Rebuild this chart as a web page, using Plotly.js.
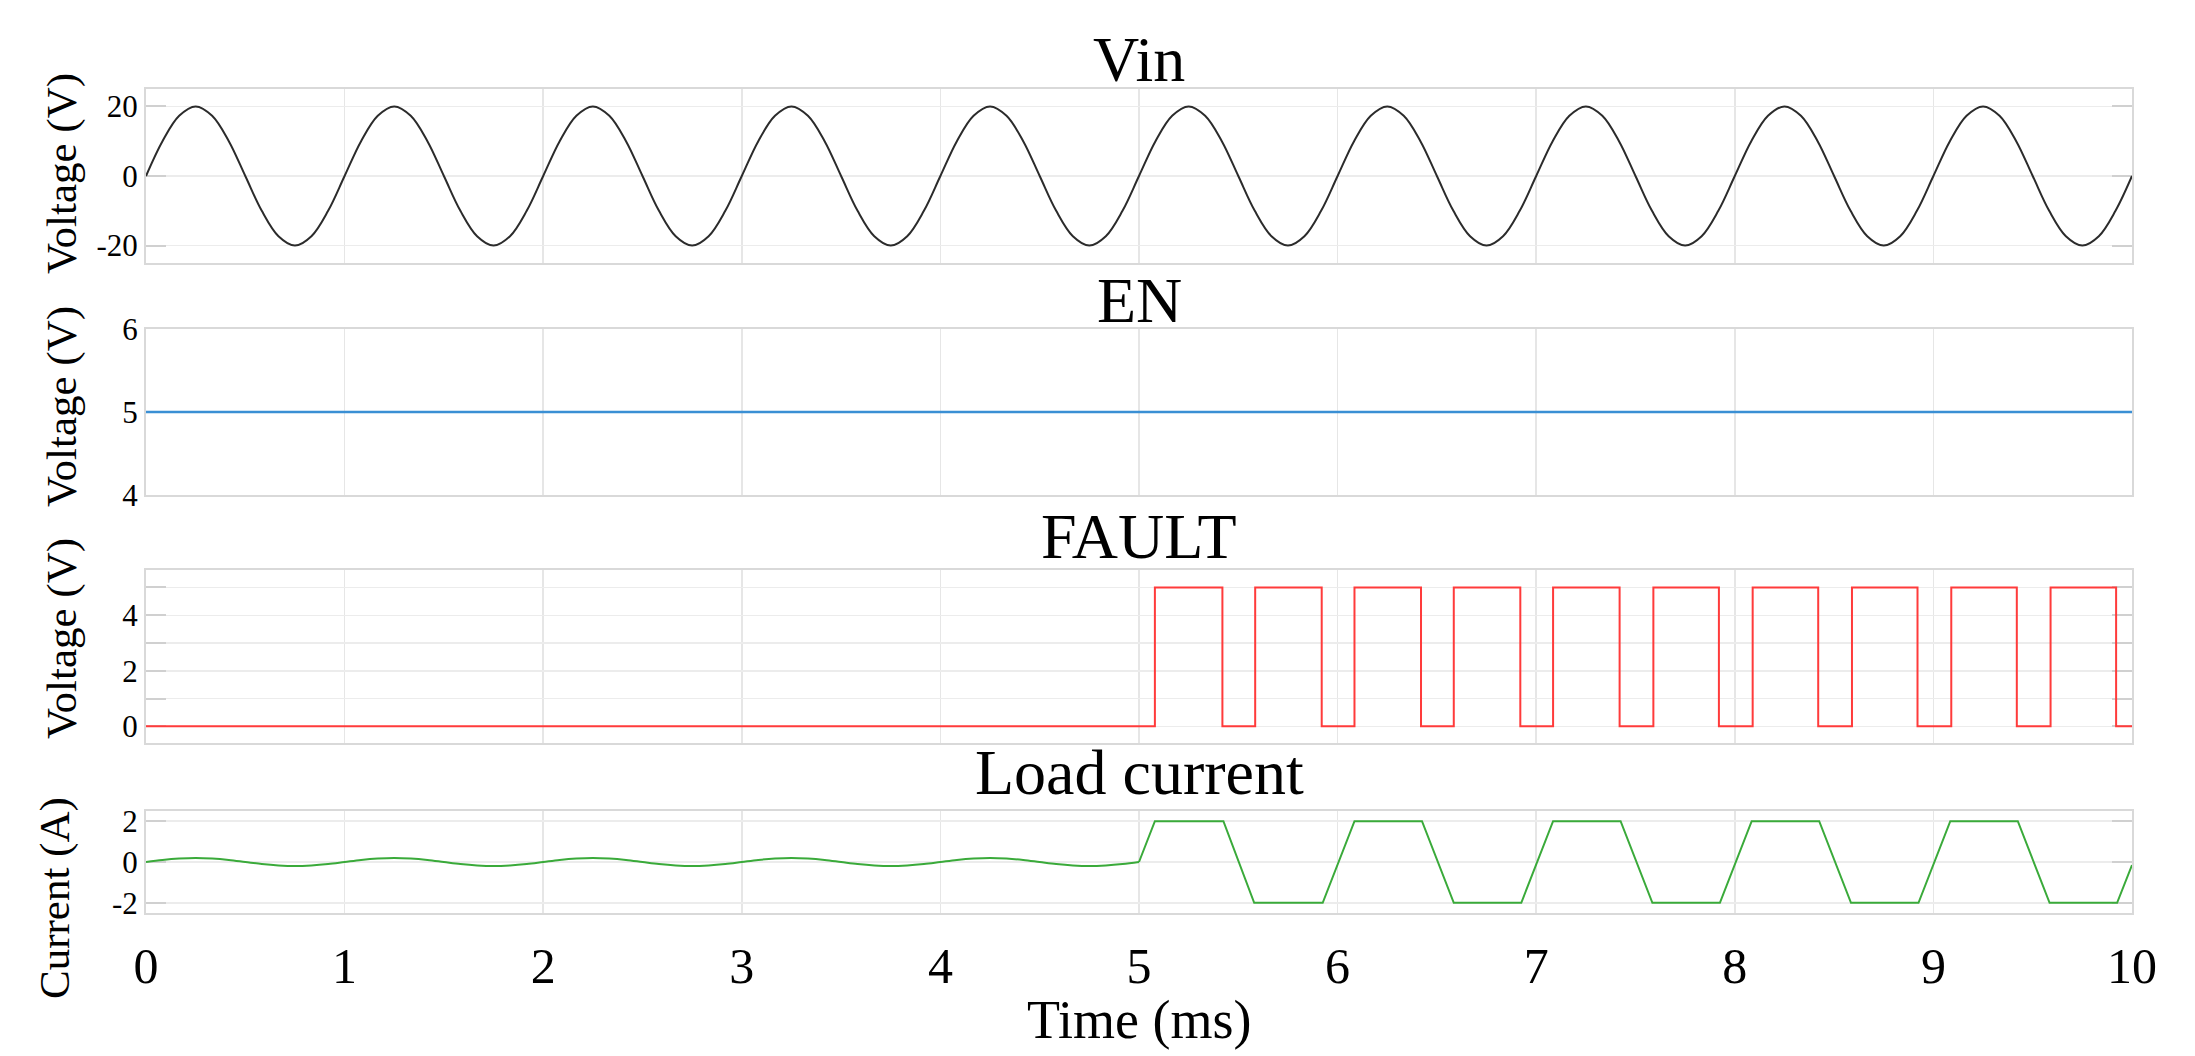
<!DOCTYPE html>
<html>
<head>
<meta charset="utf-8">
<script src="https://cdn.plot.ly/plotly-3.0.1.min.js"></script>
<style>
html,body{margin:0;padding:0;background:#fff;}
#chart{width:2195px;height:1056px;}
</style>
</head>
<body>
<div id="chart"></div>
<script>
// ---------- data ----------
const panelTitles = ['Vin', 'EN', 'FAULT', 'Load current'];
const yTitles = ['Voltage (V)', 'Voltage (V)', 'Voltage (V)', 'Current (A)'];
const xTitle = 'Time (ms)';

// Vin (V), sampled every 1/12 ms
const tVin = [
  0,0.083,0.167,0.25,0.333,0.417,0.5,0.583,0.667,0.75,0.833,0.917,
  1,1.083,1.167,1.25,1.333,1.417,1.5,1.583,1.667,1.75,1.833,1.917,
  2,2.083,2.167,2.25,2.333,2.417,2.5,2.583,2.667,2.75,2.833,2.917,
  3,3.083,3.167,3.25,3.333,3.417,3.5,3.583,3.667,3.75,3.833,3.917,
  4,4.083,4.167,4.25,4.333,4.417,4.5,4.583,4.667,4.75,4.833,4.917,
  5,5.083,5.167,5.25,5.333,5.417,5.5,5.583,5.667,5.75,5.833,5.917,
  6,6.083,6.167,6.25,6.333,6.417,6.5,6.583,6.667,6.75,6.833,6.917,
  7,7.083,7.167,7.25,7.333,7.417,7.5,7.583,7.667,7.75,7.833,7.917,
  8,8.083,8.167,8.25,8.333,8.417,8.5,8.583,8.667,8.75,8.833,8.917,
  9,9.083,9.167,9.25,9.333,9.417,9.5,9.583,9.667,9.75,9.833,9.917,
  10];
const vin = [
  0,10,17.3,20,17.3,10,0,-10,-17.3,-20,-17.3,-10,
  0,10,17.3,20,17.3,10,0,-10,-17.3,-20,-17.3,-10,
  0,10,17.3,20,17.3,10,0,-10,-17.3,-20,-17.3,-10,
  0,10,17.3,20,17.3,10,0,-10,-17.3,-20,-17.3,-10,
  0,10,17.3,20,17.3,10,0,-10,-17.3,-20,-17.3,-10,
  0,10,17.3,20,17.3,10,0,-10,-17.3,-20,-17.3,-10,
  0,10,17.3,20,17.3,10,0,-10,-17.3,-20,-17.3,-10,
  0,10,17.3,20,17.3,10,0,-10,-17.3,-20,-17.3,-10,
  0,10,17.3,20,17.3,10,0,-10,-17.3,-20,-17.3,-10,
  0,10,17.3,20,17.3,10,0,-10,-17.3,-20,-17.3,-10,
  0];

// EN (V)
const tEn = [0, 10];
const en = [5, 5];

// FAULT (V), step changes
const tFault = [0, 5.08, 5.42, 5.585, 5.92, 6.085, 6.42, 6.585, 6.92, 7.085, 7.42,
  7.59, 7.92, 8.09, 8.42, 8.59, 8.92, 9.09, 9.42, 9.59, 9.92, 10];
const fault = [0, 5, 0, 5, 0, 5, 0, 5, 0, 5, 0, 5, 0, 5, 0, 5, 0, 5, 0, 5, 0, 0];

// Load current (A) before the fault, sampled every 1/12 ms
const tLoadA = [
  0,0.083,0.167,0.25,0.333,0.417,0.5,0.583,0.667,0.75,0.833,0.917,
  1,1.083,1.167,1.25,1.333,1.417,1.5,1.583,1.667,1.75,1.833,1.917,
  2,2.083,2.167,2.25,2.333,2.417,2.5,2.583,2.667,2.75,2.833,2.917,
  3,3.083,3.167,3.25,3.333,3.417,3.5,3.583,3.667,3.75,3.833,3.917,
  4,4.083,4.167,4.25,4.333,4.417,4.5,4.583,4.667,4.75,4.833,4.917,
  5];
const loadA = [
  0,0.1,0.17,0.2,0.17,0.1,0,-0.1,-0.17,-0.2,-0.17,-0.1,
  0,0.1,0.17,0.2,0.17,0.1,0,-0.1,-0.17,-0.2,-0.17,-0.1,
  0,0.1,0.17,0.2,0.17,0.1,0,-0.1,-0.17,-0.2,-0.17,-0.1,
  0,0.1,0.17,0.2,0.17,0.1,0,-0.1,-0.17,-0.2,-0.17,-0.1,
  0,0.1,0.17,0.2,0.17,0.1,0,-0.1,-0.17,-0.2,-0.17,-0.1,
  0];
// Load current (A) during current limiting
const tLoadB = [5, 5.08, 5.425, 5.58, 5.925, 6.085, 6.425, 6.585, 6.925, 7.085, 7.425,
  7.585, 7.925, 8.085, 8.425, 8.585, 8.925, 9.085, 9.425, 9.585, 9.925, 10];
const loadB = [0, 2, 2, -2, -2, 2, 2, -2, -2, 2, 2, -2, -2, 2, 2, -2, -2, 2, 2, -2, -2, -0.15];

const xTickVals = [0,1,2,3,4,5,6,7,8,9,10];
const y1Ticks = [-20, 0, 20];
const y2Ticks = [4, 5, 6];
const y3Ticks = [0, 1, 2, 3, 4, 5];
const y3Labels = ['0', '', '2', '', '4', ''];
const y4Ticks = [-2, 0, 2];

// ---------- figure ----------
const FONT = '"Liberation Serif", "Times New Roman", serif';
const colors = {vin: '#2b2b2b', en: '#3a8fd4', fault: '#ff3b3b', load: '#3aaa3a'};

const traces = [
  {x: tVin, y: vin, xaxis: 'x', yaxis: 'y', mode: 'lines', line: {color: colors.vin, width: 2, shape: 'spline'}},
  {x: tEn, y: en, xaxis: 'x2', yaxis: 'y2', mode: 'lines', line: {color: colors.en, width: 2.5}},
  {x: tFault, y: fault, xaxis: 'x3', yaxis: 'y3', mode: 'lines', line: {color: colors.fault, width: 2, shape: 'hv'}},
  {x: tLoadA, y: loadA, xaxis: 'x4', yaxis: 'y4', mode: 'lines', line: {color: colors.load, width: 2, shape: 'spline'}},
  {x: tLoadB, y: loadB, xaxis: 'x4', yaxis: 'y4', mode: 'lines', line: {color: colors.load, width: 2}}
];

const W = 2195, H = 1056;
const L = 146, R = 63, T = 89, B = 143;
const PH = H - T - B;
function py(px) { return (H - B - px) / PH; }   // pixel from top -> paper y

const domains = [[py(263), 1], [py(495), py(329)], [py(743), py(570)], [0, py(811)]];

function xAx(i) {
  return {
    domain: [0, 1], anchor: 'y' + (i === 1 ? '' : i), range: [0, 10],
    tickvals: xTickVals, showticklabels: i === 4, ticks: '',
    ticklabelstandoff: 8,
    tickfont: {family: FONT, size: 50, color: '#000'},
    showgrid: true, gridcolor: '#e6e6e6', gridwidth: 1.5,
    showline: true, mirror: true, linecolor: '#d9d9d9', linewidth: 2,
    zeroline: false, fixedrange: true, layer: 'below traces'
  };
}
function yAx(i, range, vals, labels) {
  return {
    domain: domains[i - 1], anchor: 'x' + (i === 1 ? '' : i), range: range,
    tickvals: vals, ticktext: labels || vals.map(String),
    ticks: 'inside', ticklen: 20, tickcolor: '#d0d0d0', tickwidth: 2,
    tickfont: {family: FONT, size: 31, color: '#000'},
    showgrid: true, gridcolor: '#ececec', gridwidth: 1.5,
    showline: true, mirror: 'ticks', linecolor: '#d9d9d9', linewidth: 2,
    zeroline: false, fixedrange: true, layer: 'below traces'
  };
}

const annotations = [];
const titleCenters = [59.5, 300, 536, 772];
panelTitles.forEach((t, i) => {
  annotations.push({text: t, xref: 'paper', yref: 'paper', x: 0.5, y: py(titleCenters[i]),
    xanchor: 'center', yanchor: 'middle', showarrow: false,
    font: {family: FONT, size: 64, color: '#000'}});
});
const yTitleCenters = [174, 407, 639, 898];
const yTitleX = [62, 62, 62, 55];
yTitles.forEach((t, i) => {
  annotations.push({text: t, xref: 'paper', yref: 'paper', x: 0, xshift: yTitleX[i] - L,
    y: py(yTitleCenters[i]), xanchor: 'center', yanchor: 'middle', textangle: -90,
    showarrow: false, font: {family: FONT, size: 43, color: '#000'}});
});
annotations.push({text: xTitle, xref: 'paper', yref: 'paper', x: 0.5, y: py(1020),
  xanchor: 'center', yanchor: 'middle', showarrow: false,
  font: {family: FONT, size: 54, color: '#000'}});

const layout = {
  width: W, height: H,
  margin: {l: L, r: R, t: T, b: B, pad: 0},
  paper_bgcolor: '#fff', plot_bgcolor: '#fff',
  showlegend: false,
  font: {family: FONT, color: '#000'},
  xaxis: xAx(1), xaxis2: xAx(2), xaxis3: xAx(3), xaxis4: xAx(4),
  yaxis: yAx(1, [-25, 25], y1Ticks),
  yaxis2: yAx(2, [4, 6], y2Ticks),
  yaxis3: yAx(3, [-0.6, 5.63], y3Ticks, y3Labels),
  yaxis4: yAx(4, [-2.5, 2.5], y4Ticks),
  annotations: annotations
};

Plotly.newPlot('chart', traces, layout, {staticPlot: true, displayModeBar: false});
</script>
</body>
</html>
